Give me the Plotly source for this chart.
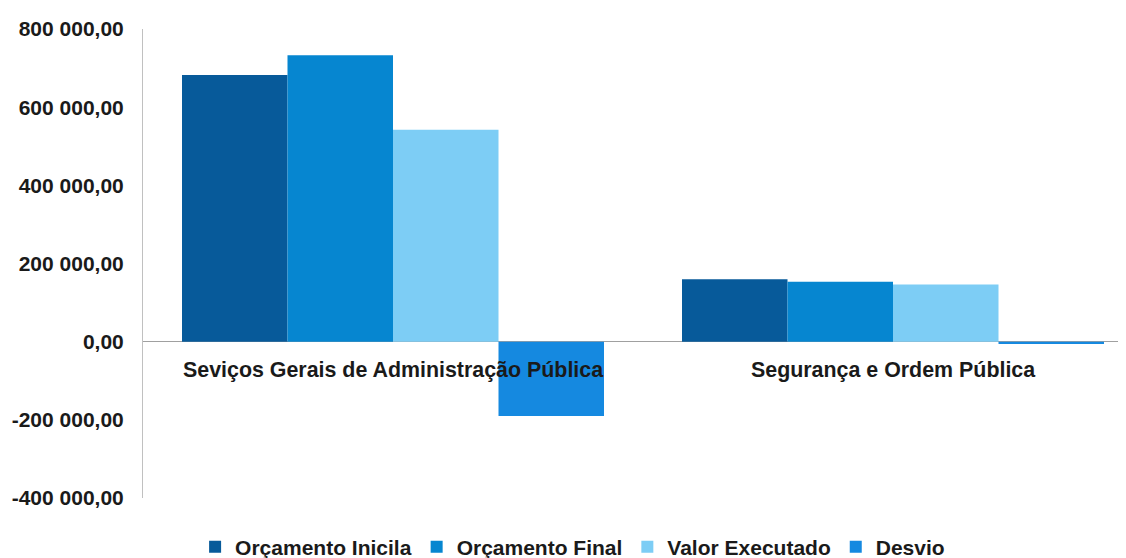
import plotly.graph_objects as go

categories = ["Seviços Gerais de Administração Pública", "Segurança e Ordem Pública"]
series_names = ["Orçamento Inicila", "Orçamento Final", "Valor Executado", "Desvio"]
orcamento_inicial = [682000, 160000]
orcamento_final = [733000, 153000]
valor_executado = [542000, 146000]
desvio = [-190000, -6000]
colors = ["#075a9a", "#0686d0", "#7dcdf5", "#1589e0"]
y_ticks = [-400000, -200000, 0, 200000, 400000, 600000, 800000]
y_tick_labels = ["-400 000,00", "-200 000,00", "0,00", "200 000,00",
                 "400 000,00", "600 000,00", "800 000,00"]

font_family = "Liberation Sans, Arial, sans-serif"

fig = go.Figure()
for name, vals, col in zip(series_names,
                           [orcamento_inicial, orcamento_final, valor_executado, desvio],
                           colors):
    fig.add_trace(go.Bar(name=name, x=categories, y=vals, marker=dict(color=col, line=dict(width=0))))

for cat in categories:
    fig.add_annotation(x=cat, y=0, xref="x", yref="y", text="<b>%s</b>" % cat,
                       showarrow=False, yshift=-28,
                       font=dict(family=font_family, size=21.4, color="#1a1a1a"))

fig.update_layout(
    width=1126, height=558,
    margin=dict(l=135, r=8, t=21, b=68, autoexpand=False),
    paper_bgcolor="white", plot_bgcolor="white",
    separators=", ",
    barmode="group", bargap=0.156, bargroupgap=0,
    font=dict(family=font_family, size=21, color="#1a1a1a"),
    legend=dict(orientation="h", x=0.053, xanchor="left", y=-0.1045, yanchor="middle",
                font=dict(family=font_family, size=21, color="#1a1a1a", weight="bold"),
                itemwidth=30, traceorder="normal"),
    xaxis=dict(range=[-0.5, 1.466], showticklabels=False, showline=False,
               showgrid=False, ticks="", automargin=False),
    yaxis=dict(range=[-400000, 800000], tickvals=y_ticks, ticktext=y_tick_labels,
               showgrid=False, showline=True, linecolor="#c0c0c0", linewidth=1,
               zeroline=True, zerolinecolor="#a0a0a0", zerolinewidth=1,
               ticks="", ticklabelstandoff=14, automargin=False,
               tickfont=dict(family=font_family, size=21, color="#1a1a1a", weight="bold")),
)

fig.write_html("out.html")
